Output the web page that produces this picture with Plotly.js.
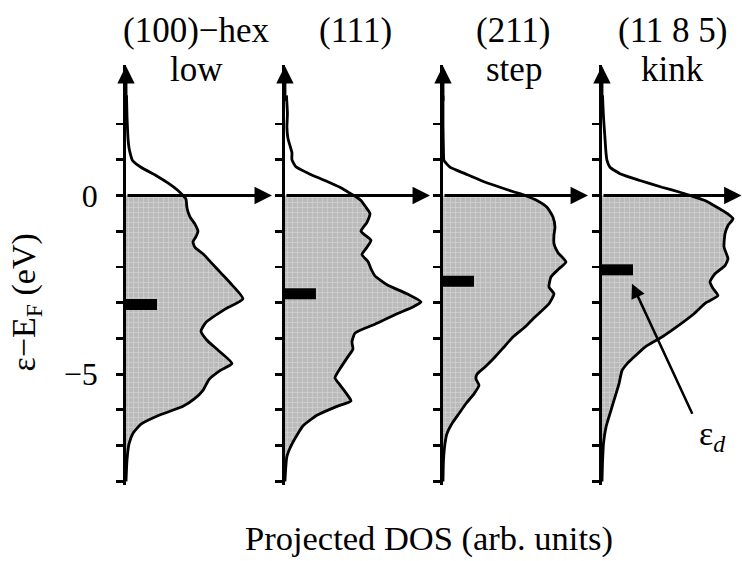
<!DOCTYPE html>
<html><head><meta charset="utf-8">
<script src="https://cdn.plot.ly/plotly-3.0.1.min.js"></script>
<style>html,body{margin:0;padding:0;background:#fff}</style>
</head><body><div id="chart" style="width:742px;height:561px"></div>
<script>
// ---- data ----
const panelTitles = ["(100)−hex", "(111)", "(211)", "(11 8 5)"];
const panelSubtitles = ["low", "", "step", "kink"];

const energyLow = [2.8, 2.2, 1.7, 1.44, 1.26, 0.98, 0.79, 0.56, 0.33, 0.14, 0, -0.1, -0.35, -0.6, -0.8, -1.0, -1.15, -1.3, -1.45, -1.63, -1.9, -2.2, -2.5, -2.89, -3.2, -3.55, -3.8, -4.05, -4.35, -4.7, -4.9, -5.15, -5.45, -5.7, -5.9, -6.15, -6.4, -6.65, -6.95, -7.4, -8.0];
const dosLow    = [0.5, 1, 1.8, 2.5, 3.5, 6.5, 15, 30, 43, 52, 57, 60, 61, 64, 69, 72, 70, 67, 69, 77, 86, 96, 106, 117, 98, 80, 75, 81, 93, 106, 94, 83, 77, 68, 57, 33, 15, 7, 3, 1, 0];

const energy111 = [2.8, 2.3, 1.9, 1.6, 1.4, 1.2, 1.0, 0.8, 0.61, 0.42, 0.23, 0.08, 0, -0.14, -0.33, -0.5, -0.75, -1.0, -1.25, -1.45, -1.65, -1.85, -2.05, -2.25, -2.5, -2.75, -2.98, -3.12, -3.31, -3.6, -3.85, -4.1, -4.3, -4.55, -4.85, -5.1, -5.3, -5.6, -5.75, -5.9, -6.15, -6.45, -6.9, -7.3, -8.0];
const dos111    = [1.5, 2.5, 2, 3, 5, 7, 7, 11, 24, 40, 55, 64, 69, 76, 81, 85, 82, 76, 86, 82, 77, 83, 86, 90, 102, 122, 136, 128, 112, 90, 70, 67, 68, 62, 55, 50, 55, 63, 66, 52, 32, 18, 8, 2, 0];

const energyStep = [2.8, 2.0, 1.2, 0.98, 0.79, 0.61, 0.42, 0.23, 0.09, 0, -0.14, -0.33, -0.6, -0.89, -1.1, -1.35, -1.6, -1.86, -2.05, -2.28, -2.56, -2.75, -3.03, -3.4, -3.68, -3.96, -4.24, -4.52, -4.8, -5.0, -5.13, -5.31, -5.55, -5.82, -6.1, -6.38, -6.66, -6.94, -7.4, -8.0];
const dosStep    = [0, 0, 0.5, 1, 7, 22, 38, 57, 72, 82, 94, 104, 110, 112, 111, 111, 115, 123, 116, 108, 106, 111, 106, 92, 82, 70, 61, 52, 42, 34, 33, 36, 31, 23, 16, 9, 4, 2, 0.5, 0];

const energyKink = [2.8, 2.2, 1.6, 1.2, 0.98, 0.79, 0.61, 0.42, 0.23, 0.09, 0, -0.14, -0.33, -0.5, -0.65, -0.84, -1.07, -1.44, -1.77, -1.96, -2.19, -2.42, -2.6, -2.8, -3.0, -3.31, -3.65, -3.96, -4.24, -4.52, -4.71, -4.9, -5.27, -5.64, -6.01, -6.48, -6.94, -7.5, -8.0];
const dosKink    = [0.5, 1.5, 3, 4, 5, 8, 18, 38, 60, 78, 88, 103, 115, 125, 131, 126, 123, 122, 126, 123, 113, 108, 111, 116, 104, 92, 76, 60, 43, 32, 25, 20, 17, 13, 9, 4, 1.5, 0.5, 0];

const dBandCenters = [-3.05, -2.75, -2.40, -2.08];

const yMajorTicks = [-5, 0];
const yMinorTicks = [-8, -7, -6, -4, -3, -2, -1, 1, 2];

const yLabel = "ε−E<sub>F</sub> (eV)";
const xLabel = "Projected DOS (arb. units)";
const edLabel = "ε<sub><i>d</i></sub>";

// ---- drawing ----
const FONT = "Liberation Serif, Times New Roman, serif";
const panels = [[energyLow, dosLow], [energy111, dos111], [energyStep, dosStep], [energyKink, dosKink]];
const xDomains = [[0, 0.258], [0.258, 0.5146], [0.5146, 0.7727], [0.7727, 1]];
const xWidths = [159, 158, 159, 140];
const arrowTips = [146, 145, 145, 139.5];
const Y_RANGE = [-8.1, 3.65];
const LW = 2.9;

const traces = [];
const annotations = [];
const layout = {
  width: 742, height: 561,
  margin: {l: 126, r: 0, t: 65, b: 76},
  paper_bgcolor: "#fff", plot_bgcolor: "#fff",
  showlegend: false,
  font: {family: FONT, color: "#000"}
};

panels.forEach(([E, D], i) => {
  const s = i === 0 ? "" : String(i + 1);
  const xa = "x" + s, ya = "y" + s;
  const fe = [], fd = [];
  E.forEach((e, k) => { if (e <= 0) { fe.push(e); fd.push(D[k]); } });
  traces.push({type: "scatter", mode: "lines", x: fd, y: fe, xaxis: xa, yaxis: ya,
    fill: "tozerox", fillcolor: "#bdbdbd",
    fillpattern: {shape: "+", bgcolor: "#bababa", fgcolor: "#d4d4d4", size: 5, solidity: 0.25},
    line: {width: 0, shape: "spline", smoothing: 0.5}, hoverinfo: "skip"});
  traces.push({type: "scatter", mode: "lines", x: D, y: E, xaxis: xa, yaxis: ya,
    line: {color: "#000", width: 2.8, shape: "spline", smoothing: 0.5}, hoverinfo: "skip"});
  traces.push({type: "scatter", mode: "lines", x: [0, 31], y: [dBandCenters[i], dBandCenters[i]], xaxis: xa, yaxis: ya,
    line: {color: "#000", width: 11}, hoverinfo: "skip"});

  layout["xaxis" + s] = {domain: xDomains[i], range: [0, xWidths[i]], anchor: ya,
    showline: false, showgrid: false, zeroline: false, ticks: "", showticklabels: false, fixedrange: true};
  layout["yaxis" + s] = {range: Y_RANGE, anchor: xa, showline: true, linewidth: LW, linecolor: "#000",
    ticks: "outside", ticklen: 7, tickwidth: LW, tickcolor: "#000", tickmode: "array",
    tickvals: yMajorTicks, showticklabels: i === 0, ticklabelstandoff: 12,
    minor: {tickmode: "array", tickvals: yMinorTicks, ticks: "outside", ticklen: 7, tickwidth: LW, tickcolor: "#000", showgrid: false},
    tickfont: {family: FONT, size: 32, color: "#000"}, showgrid: false, zeroline: false, fixedrange: true};

  // vertical arrow head
  annotations.push({xref: xa, yref: ya, axref: xa, ayref: ya, x: 0, y: 3.62, ax: 0, ay: 2.6,
    text: "", showarrow: true, arrowhead: 2, arrowsize: 1.2, arrowwidth: LW, arrowcolor: "#000"});
  // horizontal arrow at 0
  annotations.push({xref: xa, yref: ya, axref: xa, ayref: ya, x: arrowTips[i], y: 0, ax: 0, ay: 0,
    text: "", showarrow: true, arrowhead: 2, arrowsize: 1.2, arrowwidth: LW, arrowcolor: "#000"});
  // titles
  annotations.push({xref: xa, yref: "paper", x: 71, y: 1.083, yanchor: "middle", text: panelTitles[i],
    showarrow: false, font: {family: FONT, size: 35, color: "#000"}});
  if (panelSubtitles[i]) {
    annotations.push({xref: xa, yref: "paper", x: 71, y: 0.99, yanchor: "middle", text: panelSubtitles[i],
      showarrow: false, font: {family: FONT, size: 35, color: "#000"}});
  }
});

// ε_d pointer in kink panel
annotations.push({xref: "x4", yref: "y4", axref: "x4", ayref: "y4", x: 30, y: -2.47, ax: 91, ay: -6.15,
  text: "", showarrow: true, arrowhead: 2, arrowsize: 1.15, arrowwidth: 2.5, arrowcolor: "#000"});
annotations.push({xref: "x4", yref: "y4", x: 110, y: -6.72, text: edLabel, showarrow: false,
  font: {family: FONT, size: 34, color: "#000"}});

annotations.push({xref: "paper", yref: "y", x: -0.2, y: -3.0, text: yLabel, textangle: -90, showarrow: false,
  font: {family: FONT, size: 34, color: "#000"}});
annotations.push({xref: "paper", yref: "paper", x: 0.492, y: -0.128, yanchor: "middle", text: xLabel, showarrow: false,
  font: {family: FONT, size: 34.5, color: "#000"}});

layout.annotations = annotations;

Plotly.newPlot("chart", traces, layout, {staticPlot: true, displayModeBar: false});
</script>
</body></html>
